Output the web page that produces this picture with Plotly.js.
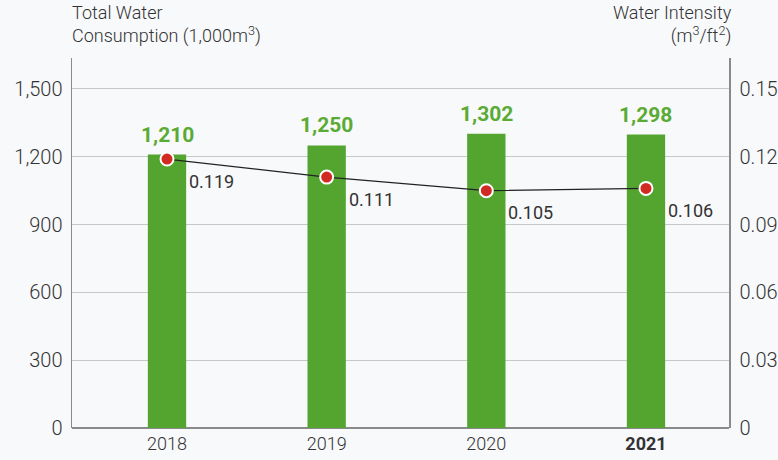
<!DOCTYPE html>
<html><head><meta charset="utf-8">
<script src="https://cdn.plot.ly/plotly-3.0.1.min.js"></script>
<style>html,body{margin:0;padding:0;background:#f8f9fb;}#c{width:778px;height:460px;}</style>
</head><body><div id="c"></div>
<script>
const years = ['2018','2019','2020','2021'];
const yearLabels = ['2018','2019','2020','<b>2021</b>'];
const consumption = [1210, 1250, 1302, 1298];
const consumptionText = ['1,210','1,250','1,302','1,298'];
const intensity = [0.119, 0.111, 0.105, 0.106];
const intensityText = ['0.119','0.111','0.105','0.106'];
const leftTicks = [0, 300, 600, 900, 1200, 1500];
const leftTickText = ['0','300','600','900','1,200','1,500'];
const rightTicks = [0, 0.03, 0.06, 0.09, 0.12, 0.15];
const rightTickText = ['0','0.03','0.06','0.09','0.12','0.15'];

const xIdx = years.map((_, i) => i);

const bars = {
  type: 'bar', x: xIdx, y: consumption, width: 0.24,
  marker: {color: '#53a530'}, hoverinfo: 'none'
};
const line = {
  type: 'scatter', mode: 'lines+markers', x: xIdx, y: intensity, yaxis: 'y2',
  line: {color: '#222', width: 1.2},
  marker: {size: 13, color: '#d12a22', line: {color: '#fff', width: 2}},
  cliponaxis: false, hoverinfo: 'none'
};

const annotations = [
  {text: 'Total Water<br>Consumption (1,000m<sup>3</sup>)', xref: 'paper', yref: 'paper',
   x: 0, y: 1, xanchor: 'left', yanchor: 'bottom', align: 'left', showarrow: false,
   xshift: -2, yshift: 9, font: {family: 'Roboto', size: 18, color: '#333', weight: 300}},
  {text: 'Water Intensity<br>(m<sup>3</sup>/ft<sup>2</sup>)', xref: 'paper', yref: 'paper',
   x: 1, y: 1, xanchor: 'right', yanchor: 'bottom', align: 'right', showarrow: false,
   xshift: 5, yshift: 9, font: {family: 'Roboto', size: 18, color: '#333', weight: 300}}
];
consumption.forEach((v, i) => annotations.push({
  text: '<b>' + consumptionText[i] + '</b>', x: xIdx[i], y: v, xref: 'x', yref: 'y',
  xanchor: 'center', yanchor: 'middle', showarrow: false, yshift: 20,
  font: {family: 'Roboto', size: 21, color: '#5aab34'}
}));
intensity.forEach((v, i) => annotations.push({
  text: intensityText[i], x: xIdx[i], y: v, xref: 'x', yref: 'y2',
  xanchor: 'left', yanchor: 'middle', showarrow: false, xshift: 20, yshift: -22,
  font: {family: 'Roboto', size: 18, color: '#333'}
}));

const layout = {
  width: 778, height: 460,
  paper_bgcolor: '#f8f9fb', plot_bgcolor: '#f8f9fb',
  margin: {l: 72, r: 49, t: 58, b: 32},
  showlegend: false,
  font: {family: 'Roboto', color: '#333'},
  xaxis: {
    range: [-0.595, 3.52], tickvals: xIdx, ticktext: yearLabels,
    showgrid: false, zeroline: false, showline: false, ticks: '',
    tickfont: {family: 'Roboto', size: 18, color: '#333', weight: 300}, ticklabelstandoff: 3
  },
  yaxis: {
    range: [0, 1637], tickvals: leftTicks, ticktext: leftTickText,
    showgrid: true, gridcolor: '#c8c8c8', gridwidth: 1,
    zeroline: true, zerolinecolor: '#8a8a8a', zerolinewidth: 2,
    showline: true, linecolor: '#8a8a8a', linewidth: 1.5, ticks: '',
    tickfont: {family: 'Roboto', size: 20, color: '#333', weight: 300}, ticklabelstandoff: 4
  },
  yaxis2: {
    range: [0, 0.1637], tickvals: rightTicks, ticktext: rightTickText,
    overlaying: 'y', side: 'right', showgrid: false, zeroline: false,
    showline: true, linecolor: '#8a8a8a', linewidth: 1.5, ticks: '',
    tickfont: {family: 'Roboto', size: 20, color: '#333', weight: 300}, ticklabelstandoff: 5
  },
  annotations: annotations
};
Plotly.newPlot('c', [bars, line], layout, {displayModeBar: false, staticPlot: true});
</script></body></html>
